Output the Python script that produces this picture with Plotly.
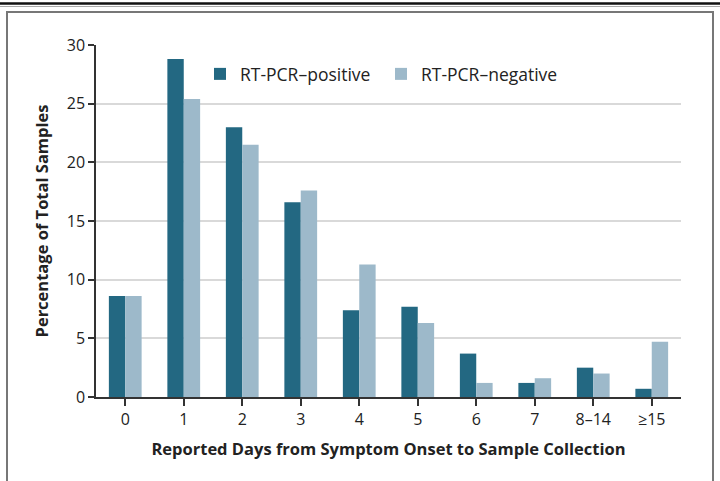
import plotly.graph_objects as go

categories = ["0", "1", "2", "3", "4", "5", "6", "7", "8\u201314", "\u226515"]
positive = [8.6, 28.8, 23.0, 16.6, 7.4, 7.7, 3.7, 1.2, 2.5, 0.7]
negative = [8.6, 25.4, 21.5, 17.6, 11.3, 6.3, 1.2, 1.6, 2.0, 4.7]
y_ticks = [0, 5, 10, 15, 20, 25, 30]

W, H = 720, 481
L, R, T, B = 96, 39, 45, 84
pw, ph = W - L - R, H - T - B

def px(x):
    return (x - L) / pw

def py(y):
    return (H - B - y) / ph

FONT = "Open Sans"
POS_C = "#236882"
NEG_C = "#9db9ca"

fig = go.Figure()
fig.add_bar(x=categories, y=positive, name="RT-PCR\u2013positive",
            marker=dict(color=POS_C, line=dict(width=0)))
fig.add_bar(x=categories, y=negative, name="RT-PCR\u2013negative",
            marker=dict(color=NEG_C, line=dict(width=0)))

fig.update_layout(
    width=W, height=H,
    margin=dict(l=L, r=R, t=T, b=B, autoexpand=False),
    paper_bgcolor="white", plot_bgcolor="white",
    barmode="group", bargap=0.44, bargroupgap=0,
    font=dict(family=FONT, size=16, color="#222"),
    legend=dict(orientation="h", x=px(200), y=py(56), xanchor="left", yanchor="top",
                font=dict(size=17.5, color="#222"), bgcolor="rgba(0,0,0,0)",
                entrywidth=136, entrywidthmode="pixels",
                tracegroupgap=0, traceorder="normal"),
    xaxis=dict(
        range=[-0.5, 9.5], showgrid=False, showline=True, linecolor="#333", linewidth=1.5,
        ticks="outside", ticklen=7, tickcolor="#333", tickwidth=1.5, automargin=False,
        tickfont=dict(size=16, color="#222"),
        title=dict(text="<b>Reported Days from Symptom Onset to Sample Collection</b>",
                   font=dict(size=16.5, color="#222"), standoff=14),
    ),
    yaxis=dict(
        range=[0, 30], tickvals=y_ticks, showgrid=True, gridcolor="#d9d9d9", gridwidth=1.5,
        showline=True, linecolor="#333", linewidth=1.5, zeroline=False, automargin=False,
        ticks="outside", ticklen=6, tickcolor="#333", tickwidth=1.5,
        tickfont=dict(size=16, color="#222"),
        title=dict(text="<b>Percentage of Total Samples</b>",
                   font=dict(size=16.5, color="#222"), standoff=14),
    ),
    shapes=[
        dict(type="line", xref="paper", yref="paper", x0=px(0), x1=px(720), y0=py(3.5), y1=py(3.5),
             line=dict(color="#111", width=2.5)),
        dict(type="line", xref="paper", yref="paper", x0=px(0), x1=px(720), y0=py(6.5), y1=py(6.5),
             line=dict(color="#aaa", width=1)),
        dict(type="rect", xref="paper", yref="paper", x0=px(7), x1=px(713), y0=py(495), y1=py(12),
             line=dict(color="#777", width=2), fillcolor="rgba(0,0,0,0)", layer="below"),
    ],
)

fig.write_html("out.html", config={"displayModeBar": False},
               post_script="document.body.style.margin='0px';document.body.style.overflow='hidden';")
